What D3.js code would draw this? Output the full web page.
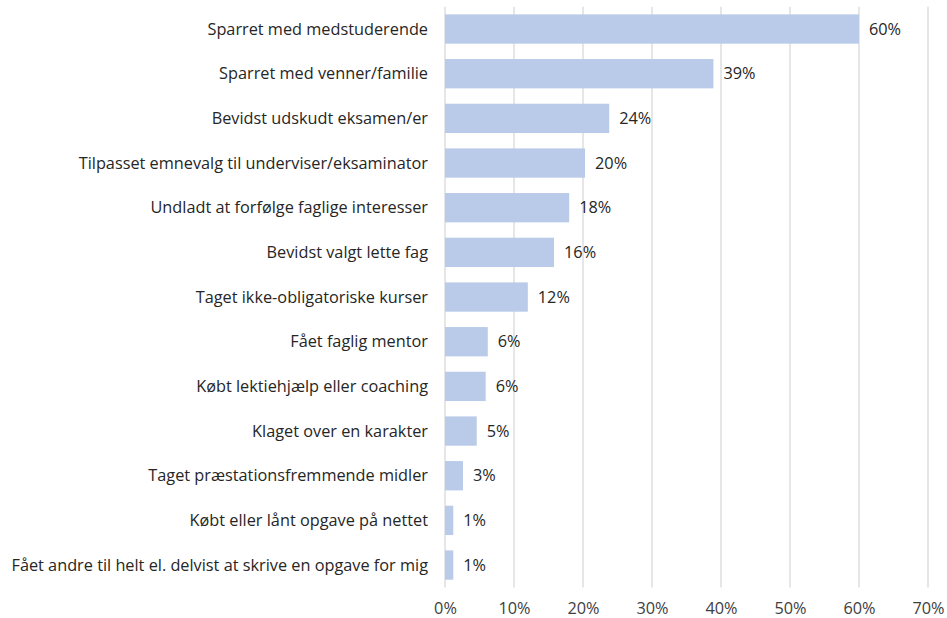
<!DOCTYPE html>
<html><head><meta charset="utf-8">
<script src="https://cdn.jsdelivr.net/npm/d3@7"></script>
<style>body{margin:0;background:#fff}svg{display:block}text{font-family:"Open Sans",Lato,sans-serif}</style>
</head><body><svg id="c" width="947" height="618"></svg>
<script>
const categories = [
  "Sparret med medstuderende",
  "Sparret med venner/familie",
  "Bevidst udskudt eksamen/er",
  "Tilpasset emnevalg til underviser/eksaminator",
  "Undladt at forfølge faglige interesser",
  "Bevidst valgt lette fag",
  "Taget ikke-obligatoriske kurser",
  "Fået faglig mentor",
  "Købt lektiehjælp eller coaching",
  "Klaget over en karakter",
  "Taget præstationsfremmende midler",
  "Købt eller lånt opgave på nettet",
  "Fået andre til helt el. delvist at skrive en opgave for mig"
];
const values = [60, 38.9, 23.8, 20.3, 18.0, 15.8, 12.0, 6.2, 5.9, 4.6, 2.6, 1.2, 1.2];
const valueLabels = ["60%","39%","24%","20%","18%","16%","12%","6%","6%","5%","3%","1%","1%"];
const ticks = [0,10,20,30,40,50,60,70];

const svg = d3.select("#c");
const x = d3.scaleLinear().domain([0,70]).range([445,928]);
const y = d3.scaleBand().domain(categories).range([6.7,587.4]).paddingInner(0.344).paddingOuter(0.172);
const fs = 16.3;

svg.append("g").selectAll("line").data(ticks).join("line")
  .attr("x1",d=>x(d)).attr("x2",d=>x(d)).attr("y1",6.7).attr("y2",587.4)
  .attr("stroke","#d9d9d9").attr("stroke-width",1.3);

svg.append("g").selectAll("rect").data(values).join("rect")
  .attr("x",x(0)).attr("y",(d,i)=>y(categories[i]))
  .attr("width",d=>x(d)-x(0)).attr("height",y.bandwidth())
  .attr("fill","#b9cbe9");

svg.append("g").selectAll("text").data(valueLabels).join("text")
  .attr("x",(d,i)=>x(values[i])+10).attr("y",(d,i)=>y(categories[i])+y.bandwidth()/2)
  .attr("dy","0.35em").attr("font-size",fs).attr("fill","#262626").text(d=>d);

svg.append("g").selectAll("text").data(categories).join("text")
  .attr("x",428).attr("y",d=>y(d)+y.bandwidth()/2).attr("dy","0.35em")
  .attr("text-anchor","end").attr("font-size",fs).attr("fill","#262626").text(d=>d);

const ax = d3.axisBottom(x).tickValues(ticks).tickFormat(d=>d+"%").tickSize(0).tickPadding(0);
const g = svg.append("g").attr("transform","translate(0,602)").call(ax);
g.select(".domain").remove();
g.selectAll("text").attr("font-size",fs).attr("fill","#404040").style("font-family","'Open Sans',Lato,sans-serif");
</script></body></html>
